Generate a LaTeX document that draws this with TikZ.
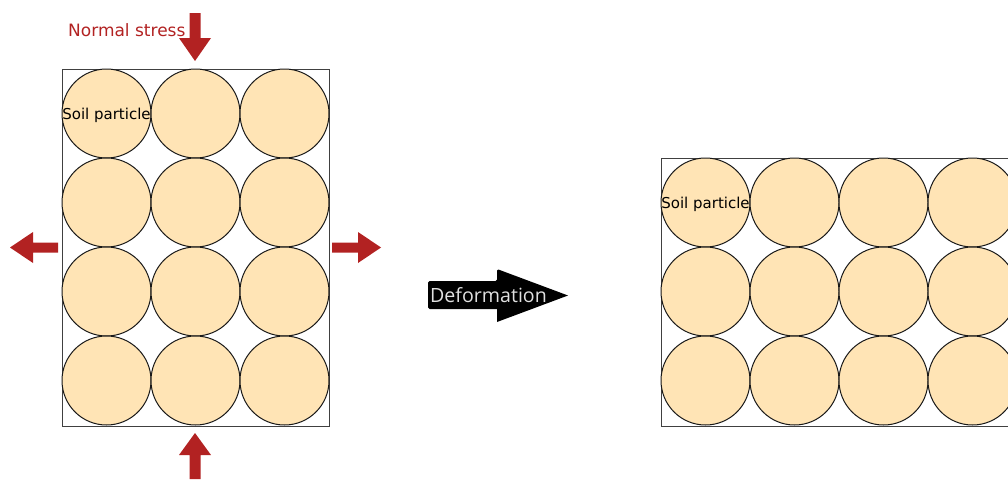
\documentclass[tikz,border=0pt]{standalone}
\usepackage{fontspec}
\setmainfont{DejaVu Sans}
\newfontfamily\deffont{Open Sans}
\definecolor{stressred}{HTML}{B22222}
\definecolor{soil}{HTML}{FFE4B5}
\begin{document}
\begin{tikzpicture}[x=1pt,y=-1pt,
  particle/.style={circle,draw=black!90,fill=soil,minimum size=89pt,inner sep=0pt,line width=1pt},
  boxframe/.style={draw=black!75,line width=1pt},
  stressarrow/.style={fill=stressred,draw=none},
  deformarrow/.style={fill=black,draw=none},
  soiltext/.style={font=\fontsize{15}{18}\selectfont,text=black,inner sep=0pt},
  stresstext/.style={font=\fontsize{17}{20}\selectfont,text=stressred,inner sep=0pt,anchor=base west},
  deftext/.style={font=\deffont\fontsize{19.6}{22}\selectfont,text=black!12,inner sep=0pt}]
\useasboundingbox (0,0) rectangle (1008,479);
\clip (0,0) rectangle (1008,479);
% left box
\draw[boxframe] (62,69) rectangle (329,426);
\foreach \i in {1,2,3} {
  \foreach \j in {1,2,3,4} {
    \node[particle] (L\i\j) at ({62+44.5+89*(\i-1)},{69+44.5+89*(\j-1)}) {};
  }
}
\node[soiltext] (lsoil) at ([yshift=-2pt]L11.center) {Soil particle};
% right box
\draw[boxframe] (661,158) rectangle (1017,426);
\foreach \i in {1,2,3,4} {
  \foreach \j in {1,2,3} {
    \node[particle] (R\i\j) at ({661+44.5+89*(\i-1)},{158+44.5+89*(\j-1)}) {};
  }
}
\node[soiltext] (rsoil) at ([yshift=-2pt]R11.center) {Soil particle};
% stress arrows
\fill[stressarrow] (189.5,13) -- (200.5,13) -- (200.5,38) -- (211,38) -- (195,61) -- (179,38) -- (189.5,38) -- cycle;
\fill[stressarrow] (189.5,479) -- (200.5,479) -- (200.5,455) -- (211,455) -- (195,433) -- (179,455) -- (189.5,455) -- cycle;
\fill[stressarrow] (58,242.5) -- (58,252.5) -- (33,252.5) -- (33,263) -- (10,247.5) -- (33,232) -- (33,242.5) -- cycle;
\fill[stressarrow] (332,242.5) -- (332,252.5) -- (358,252.5) -- (358,263) -- (381,247.5) -- (358,232) -- (358,242.5) -- cycle;
\node[stresstext] (ns) at (68,36) {Normal stress};
% deformation arrow
\fill[deformarrow, rounded corners=1.5pt] (428,281) -- (497,281) -- (497,269) [sharp corners] -- (568,295.5) -- (497,322) -- (497,309) [rounded corners=1.5pt] -- (428,309) -- cycle;
\node[deftext, anchor=west] (def) at (430,295.5) {Deformation};
\end{tikzpicture}
\end{document}
